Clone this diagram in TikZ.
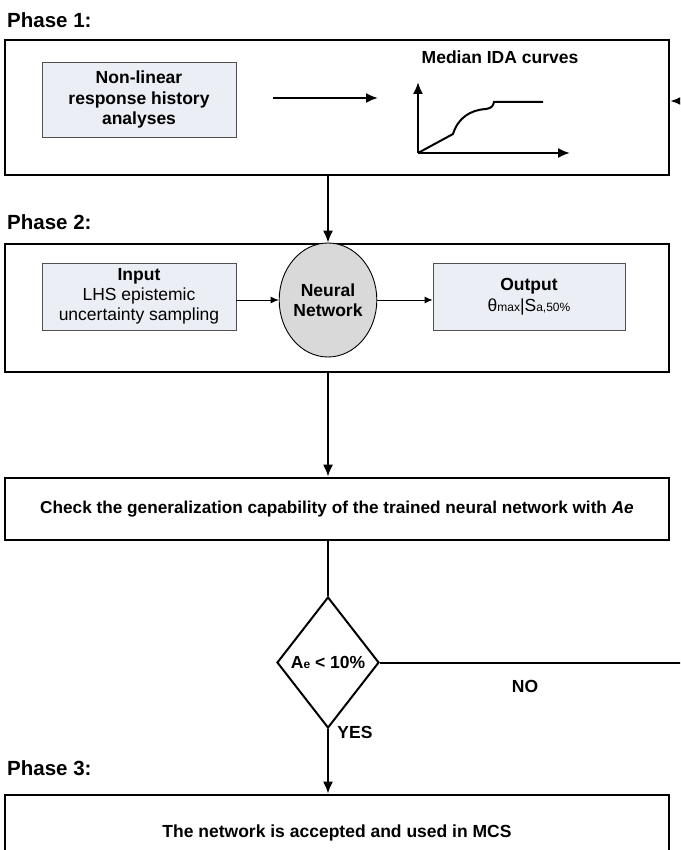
\documentclass[tikz,border=0pt]{standalone}
\usepackage{fontspec}
\setmainfont{Liberation Sans}
\usetikzlibrary{arrows.meta,shapes.geometric}
\definecolor{boxfill}{RGB}{235,238,244}
\definecolor{nnfill}{RGB}{217,217,217}
\definecolor{boxline}{RGB}{80,80,80}
\begin{document}
\begin{tikzpicture}[x=1pt,y=-1pt,
  phaselbl/.style={anchor=west,inner sep=0pt,font=\fontsize{20.5}{24}\selectfont\bfseries},
  outerbox/.style={draw,line width=2.6pt,rectangle,inner sep=0pt},
  innerbox/.style={draw=boxline,fill=boxfill,line width=0.9pt,rectangle,inner sep=0pt,align=center},
  bodytxt/.style={font=\fontsize{17.5}{20}\selectfont},
  thickarrow/.style={line width=2pt,-{Latex[length=12pt,width=10pt]}},
  thinarrow/.style={line width=0.9pt,-{Latex[length=8pt,width=7pt]}},
  plainline/.style={line width=2pt},
  lbl/.style={inner sep=0pt,font=\fontsize{17.5}{20}\selectfont\bfseries}
]
\useasboundingbox (0,0) rectangle (680,850);
\clip (0,0) rectangle (680,850);

% Phase 1
\node[phaselbl] (ph1) at (7,20) {Phase 1:};
\node[outerbox,minimum width=664,minimum height=135] (p1) at (337,107.5) {};
\node[innerbox,font=\fontsize{17.5}{20.5}\selectfont\bfseries,minimum width=194,minimum height=75] (nl) at (139,99.5) {Non-linear\\response history\\analyses};
\coordinate (a1) at (273,98);
\coordinate (a2) at (378,98);
\draw[thickarrow] (a1) -- (a2);
\node[lbl] (ida) at (500,57) {Median IDA curves};
% IDA plot
\coordinate (o) at (418,153);
\coordinate (ya) at (418,82);
\coordinate (xa) at (570,153);
\draw[thickarrow] (o) -- (ya);
\draw[thickarrow] (o) -- (xa);
\draw[line width=2pt] (o) -- (453,134) .. controls (458,118) and (470,110) .. (486,109)
  .. controls (492,108) and (493,106) .. (494,102) -- (543,102);

% Phase 2
\node[phaselbl] (ph2) at (7,222) {Phase 2:};
\node[outerbox,minimum width=664,minimum height=128] (p2) at (337,308) {};
\node[innerbox,bodytxt,minimum width=194,minimum height=67] (inp) at (139,296.5) {\textbf{Input}\\LHS epistemic\\uncertainty sampling};
\node[draw,ellipse,fill=nnfill,line width=0.9pt,minimum width=88,minimum height=114,inner sep=0pt,align=center,font=\fontsize{17.5}{20.5}\selectfont\bfseries] (nn) at (328,300) {Neural\\Network};
\node[innerbox,bodytxt,minimum width=192,minimum height=67] (out) at (529,296.5) {\textbf{Output}\\[1pt]θ{\fontsize{12}{12}\selectfont max}|S{\fontsize{12}{12}\selectfont a,50\%}};
\draw[thinarrow] (inp.east |- nn.center) -- (nn.west);
\draw[thinarrow] (nn.east) -- (out.west |- nn.center);

\draw[thickarrow] (p1.south -| nn.center) -- (p2.north -| nn.center);

% Check
\node[outerbox,minimum width=664,minimum height=62,font=\fontsize{17.2}{20}\selectfont\bfseries] (chk) at (337,509) {Check the generalization capability of the trained neural network with \textit{Ae}};
\draw[thickarrow] (p2.south -| nn.center) -- (chk.north -| nn.center);

% Decision
\node[draw,diamond,line width=2pt,minimum width=102,minimum height=131,inner sep=0pt] (dec) at (328,662.5) {};
\node[lbl] (dect) at (dec.center) {A{\fontsize{12}{12}\selectfont e} < 10\%};
\draw[plainline] (chk.south -| dec.north) -- (dec.north);

\coordinate (fb1) at (700,662.5);
\coordinate (fbtop) at (0,101);
\draw[thickarrow] (dec.east) -- (fb1) |- (p1.east |- fbtop);
\node[lbl] (no) at (525,686) {NO};

% Phase 3
\node[phaselbl] (ph3) at (7,768) {Phase 3:};
\node[outerbox,minimum width=664,minimum height=90] (p3) at (337,840) {};
\node[lbl] (p3t) at (337,833) {The network is accepted and used in MCS};
\draw[thickarrow] (dec.south) -- (p3.north -| dec.south);
\node[lbl] (yes) at (355,732) {YES};
\end{tikzpicture}
\end{document}
